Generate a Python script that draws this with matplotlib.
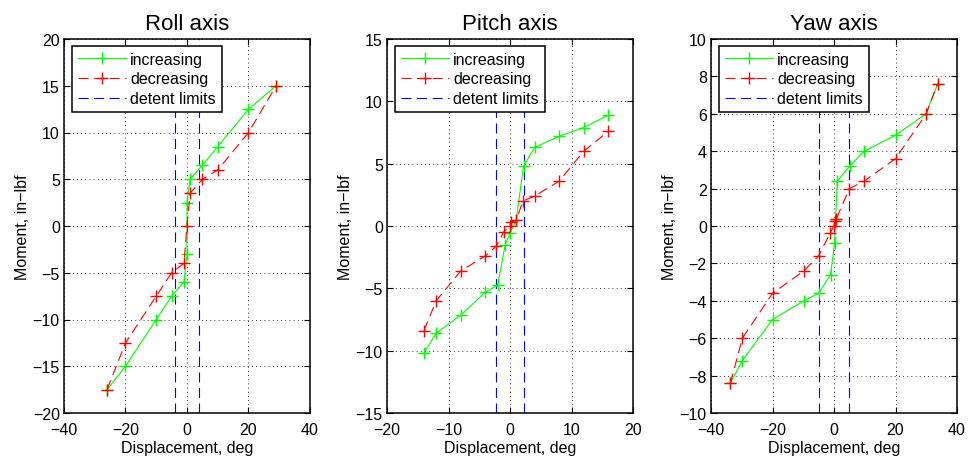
import matplotlib
matplotlib.use("Agg")
import matplotlib.pyplot as plt
import numpy as np

plt.rcParams['font.family'] = ['Liberation Sans', 'DejaVu Sans']
plt.rcParams['axes.unicode_minus'] = True

# ---- data: displacement (deg) vs moment (in-lbf) ----
roll_inc_x = [-26, -20, -10, -5, -1, 0, 0, 1, 5, 10, 20, 29]
roll_inc_y = [-17.5, -15, -10, -7.5, -6, -3, 2.5, 5, 6.5, 8.5, 12.5, 15]
roll_dec_x = [-26, -20, -10, -5, -1, 0, 1, 5, 10, 20, 29]
roll_dec_y = [-17.5, -12.5, -7.5, -5, -4, 0, 3.5, 5, 6, 10, 15]
roll_detent = [-4, 4]

pitch_inc_x = [-14, -12, -8, -4, -2, -0.8, 0, 1, 2.2, 4, 8, 12, 16]
pitch_inc_y = [-10.2, -8.6, -7.15, -5.3, -4.75, -1.55, -0.55, 0.45, 4.8, 6.3, 7.2, 7.9, 8.9]
pitch_dec_x = [-14, -12, -8, -4, -2.2, -1, 0, 0.1, 1, 2.1, 4, 8, 12, 16]
pitch_dec_y = [-8.4, -6.0, -3.6, -2.4, -1.6, -0.45, 0, 0.3, 0.45, 2.0, 2.4, 3.6, 6.0, 7.6]
pitch_detent = [-2.25, 2.25]

yaw_inc_x = [-33.7, -29.8, -20, -9.8, -5, -1.1, 0.2, 0.5, 1.1, 5.1, 9.8, 20, 29.9, 33.7]
yaw_inc_y = [-8.4, -7.2, -5.0, -4.0, -3.6, -2.6, -0.9, 0.4, 2.4, 3.2, 4.0, 4.85, 6.0, 7.6]
yaw_dec_x = [-33.7, -29.8, -20, -9.8, -5, -1.3, 0, 0.2, 0.8, 5, 9.8, 20, 30, 33.7]
yaw_dec_y = [-8.4, -6.0, -3.6, -2.4, -1.6, -0.4, 0, 0.25, 0.4, 2.0, 2.4, 3.6, 6.0, 7.6]
yaw_detent = [-5, 5]

titles = ["Roll axis", "Pitch axis", "Yaw axis"]
xlims = [(-40, 40), (-20, 20), (-40, 40)]
ylims = [(-20, 20), (-15, 15), (-10, 10)]
xticks = [np.arange(-40, 41, 20), np.arange(-20, 21, 10), np.arange(-40, 41, 20)]
yticks = [np.arange(-20, 21, 5), np.arange(-15, 16, 5), np.arange(-10, 11, 2)]

panels = [
    (roll_inc_x, roll_inc_y, roll_dec_x, roll_dec_y, roll_detent),
    (pitch_inc_x, pitch_inc_y, pitch_dec_x, pitch_dec_y, pitch_detent),
    (yaw_inc_x, yaw_inc_y, yaw_dec_x, yaw_dec_y, yaw_detent),
]

W, H = 969, 464
fig = plt.figure(figsize=(W / 100, H / 100), dpi=100)
lefts = [64, 387, 711]
ax_w, ax_b, ax_h = 246, 50, 374

FS = 11.5
lw = 0.8
dash = (0, (9, 5))

for i, (ix, iy, dx, dy, det) in enumerate(panels):
    ax = fig.add_axes([lefts[i] / W, ax_b / H, ax_w / W, ax_h / H])
    ax.plot(ix, iy, color=(0, 1, 0), lw=lw, marker='+', ms=8, mew=1,
            label='increasing', zorder=3)
    ax.plot(dx, dy, color=(1, 0, 0), lw=lw, ls=dash, marker='+', ms=8, mew=1,
            label='decreasing', zorder=3)
    for k, d in enumerate(det):
        ax.axvline(d, color=(0, 0, 1), lw=lw, ls=dash,
                   label='detent limits' if k == 0 else None, zorder=2)
    ax.set_xlim(*xlims[i])
    ax.set_ylim(*ylims[i])
    ax.set_xticks(xticks[i])
    ax.set_yticks(yticks[i])
    ax.grid(True, color='black', ls=(0, (1, 4)), lw=0.6)
    ax.tick_params(direction='in', top=True, right=True, length=4,
                   width=0.8, labelsize=FS)
    ax.tick_params(axis='x', pad=6.5)
    ax.tick_params(axis='y', pad=3)
    for s in ax.spines.values():
        s.set_linewidth(1.1)
    ax.set_title(titles[i], fontsize=16, pad=7)
    ax.set_xlabel('Displacement, deg', fontsize=FS, labelpad=2)
    ax.set_ylabel('Moment, in\u2212lbf', fontsize=FS, labelpad=2)
    leg = ax.legend(loc='upper left', bbox_to_anchor=(8 / ax_w, 1 - 7 / ax_h),
                    borderaxespad=0, fontsize=FS, handlelength=3.0,
                    handletextpad=0.3, labelspacing=0.3, borderpad=0.35,
                    fancybox=False, framealpha=1, edgecolor='black')
    leg.get_frame().set_linewidth(1.1)

fig.savefig('out.png', dpi=100)
